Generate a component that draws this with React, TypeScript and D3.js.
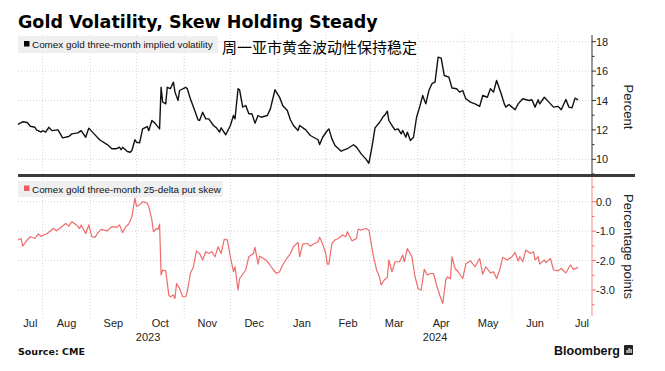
import * as d3 from "d3";

// Comex gold three-month implied volatility (%)
const volDates = [
  "2023-07-16", "2023-07-19", "2023-07-22", "2023-07-24", "2023-07-27", "2023-07-28", "2023-07-31",
  "2023-08-01", "2023-08-03", "2023-08-05", "2023-08-07", "2023-08-11", "2023-08-14", "2023-08-18",
  "2023-08-20", "2023-08-24", "2023-08-26", "2023-08-29", "2023-08-31", "2023-09-03", "2023-09-07",
  "2023-09-12", "2023-09-15", "2023-09-18", "2023-09-20", "2023-09-21", "2023-09-22", "2023-09-25",
  "2023-09-27", "2023-09-28", "2023-09-30", "2023-10-01", "2023-10-03", "2023-10-05", "2023-10-08",
  "2023-10-09", "2023-10-11", "2023-10-13", "2023-10-16", "2023-10-17", "2023-10-18", "2023-10-20",
  "2023-10-21", "2023-10-23", "2023-10-25", "2023-10-26", "2023-10-28", "2023-10-29", "2023-11-02",
  "2023-11-03", "2023-11-05", "2023-11-07", "2023-11-10", "2023-11-11", "2023-11-13", "2023-11-15",
  "2023-11-17", "2023-11-20", "2023-11-22", "2023-11-24", "2023-11-25", "2023-11-28", "2023-12-01",
  "2023-12-03", "2023-12-04", "2023-12-06", "2023-12-07", "2023-12-09", "2023-12-11", "2023-12-13",
  "2023-12-15", "2023-12-17", "2023-12-19", "2023-12-21", "2023-12-25", "2023-12-27", "2023-12-30",
  "2024-01-02", "2024-01-04", "2024-01-07", "2024-01-09", "2024-01-11", "2024-01-14", "2024-01-15",
  "2024-01-19", "2024-01-22", "2024-01-24", "2024-01-27", "2024-01-28", "2024-01-30", "2024-02-02",
  "2024-02-03", "2024-02-05", "2024-02-07", "2024-02-11", "2024-02-15", "2024-02-19", "2024-02-21",
  "2024-02-24", "2024-02-27", "2024-02-29", "2024-03-02", "2024-03-04", "2024-03-07", "2024-03-09",
  "2024-03-11", "2024-03-12", "2024-03-13", "2024-03-15", "2024-03-17", "2024-03-19", "2024-03-21",
  "2024-03-22", "2024-03-24", "2024-03-25", "2024-03-27", "2024-03-29", "2024-03-31", "2024-04-02",
  "2024-04-04", "2024-04-06", "2024-04-08", "2024-04-10", "2024-04-12", "2024-04-14", "2024-04-16",
  "2024-04-18", "2024-04-21", "2024-04-23", "2024-04-26", "2024-04-28", "2024-04-30", "2024-05-02",
  "2024-05-05", "2024-05-08", "2024-05-11", "2024-05-13", "2024-05-16", "2024-05-18", "2024-05-20",
  "2024-05-22", "2024-05-25", "2024-05-27", "2024-05-28", "2024-05-30", "2024-06-01", "2024-06-03",
  "2024-06-05", "2024-06-08", "2024-06-12", "2024-06-14", "2024-06-16", "2024-06-18", "2024-06-19",
  "2024-06-22", "2024-06-25", "2024-06-28", "2024-07-01", "2024-07-03", "2024-07-06", "2024-07-08",
  "2024-07-10", "2024-07-12", "2024-07-14",
];
const volValues = [
  12.37, 12.55, 12.5, 12.25, 12.18, 12.0, 11.85,
  11.95, 11.85, 12.18, 11.95, 12.0, 11.46, 11.55,
  11.73, 11.8, 11.95, 11.5, 12.12, 11.78, 11.33,
  11.0, 10.72, 10.72, 10.82, 10.65, 10.82, 10.53,
  10.48, 10.6, 11.33, 11.16, 11.12, 12.07, 12.23,
  11.95, 12.64, 12.46, 12.07, 14.9, 13.9, 13.77,
  14.9, 14.8, 15.25, 14.57, 14.0, 14.68, 14.9,
  14.8, 14.12, 13.55, 12.69, 12.64, 13.2, 12.75,
  12.75, 12.3, 12.14, 11.85, 12.14, 11.67, 12.3,
  12.98, 12.75, 14.8, 14.73, 13.55, 13.66, 13.1,
  13.1, 12.46, 12.98, 12.86, 12.98, 13.43, 14.73,
  14.22, 13.66, 13.32, 12.69, 12.3, 11.96, 12.3,
  12.0, 11.62, 11.5, 11.33, 11.0, 11.5, 11.96,
  12.07, 11.39, 10.94, 10.55, 10.72, 10.99, 10.83,
  10.37, 10.03, 9.73, 10.83, 12.14, 12.52, 12.86,
  13.1, 13.27, 12.64, 12.3, 12.0, 12.07, 11.73,
  11.96, 11.5, 11.85, 11.28, 11.5, 12.86, 13.55,
  14.34, 13.77, 14.68, 15.14, 15.25, 16.95, 16.88,
  15.7, 15.59, 14.85, 14.8, 14.57, 14.68, 14.12,
  13.89, 13.77, 13.6, 14.34, 14.22, 14.8, 14.57,
  15.36, 14.46, 13.77, 13.55, 13.73, 13.55, 13.37,
  13.77, 14.12, 14.0, 14.05, 13.55, 14.05, 13.77,
  14.22, 13.89, 13.55, 13.6, 13.37, 14.07, 13.55,
  13.5, 14.16, 14.05,
];

// Comex gold three-month 25-delta put skew (percentage points)
const skewDates = [
  "2023-07-16", "2023-07-18", "2023-07-19", "2023-07-22", "2023-07-24", "2023-07-27", "2023-07-29",
  "2023-07-31", "2023-08-04", "2023-08-08", "2023-08-10", "2023-08-12", "2023-08-16", "2023-08-18",
  "2023-08-20", "2023-08-23", "2023-08-25", "2023-08-26", "2023-08-29", "2023-08-31", "2023-09-02",
  "2023-09-04", "2023-09-06", "2023-09-08", "2023-09-12", "2023-09-15", "2023-09-18", "2023-09-20",
  "2023-09-22", "2023-09-24", "2023-09-26", "2023-09-28", "2023-09-30", "2023-10-01", "2023-10-03",
  "2023-10-05", "2023-10-08", "2023-10-09", "2023-10-11", "2023-10-12", "2023-10-14", "2023-10-15",
  "2023-10-16", "2023-10-17", "2023-10-18", "2023-10-20", "2023-10-22", "2023-10-23", "2023-10-25",
  "2023-10-26", "2023-10-27", "2023-10-29", "2023-10-31", "2023-11-02", "2023-11-03", "2023-11-05",
  "2023-11-07", "2023-11-09", "2023-11-11", "2023-11-13", "2023-11-15", "2023-11-17", "2023-11-19",
  "2023-11-21", "2023-11-23", "2023-11-25", "2023-11-27", "2023-11-29", "2023-12-01", "2023-12-03",
  "2023-12-04", "2023-12-06", "2023-12-07", "2023-12-11", "2023-12-13", "2023-12-16", "2023-12-17",
  "2023-12-19", "2023-12-20", "2023-12-24", "2023-12-26", "2023-12-29", "2023-12-31", "2024-01-02",
  "2024-01-04", "2024-01-06", "2024-01-09", "2024-01-11", "2024-01-14", "2024-01-15", "2024-01-17",
  "2024-01-20", "2024-01-22", "2024-01-24", "2024-01-27", "2024-01-28", "2024-01-30", "2024-02-01",
  "2024-02-02", "2024-02-03", "2024-02-05", "2024-02-07", "2024-02-09", "2024-02-12", "2024-02-14",
  "2024-02-15", "2024-02-18", "2024-02-21", "2024-02-22", "2024-02-24", "2024-02-27", "2024-02-29",
  "2024-03-03", "2024-03-05", "2024-03-06", "2024-03-07", "2024-03-08", "2024-03-10", "2024-03-12",
  "2024-03-13", "2024-03-15", "2024-03-17", "2024-03-20", "2024-03-22", "2024-03-23", "2024-03-25",
  "2024-03-28", "2024-03-30", "2024-04-01", "2024-04-03", "2024-04-05", "2024-04-07", "2024-04-09",
  "2024-04-11", "2024-04-13", "2024-04-15", "2024-04-17", "2024-04-19", "2024-04-20", "2024-04-22",
  "2024-04-23", "2024-04-25", "2024-04-27", "2024-04-30", "2024-05-02", "2024-05-05", "2024-05-08",
  "2024-05-11", "2024-05-13", "2024-05-15", "2024-05-18", "2024-05-20", "2024-05-22", "2024-05-24",
  "2024-05-26", "2024-05-29", "2024-06-01", "2024-06-03", "2024-06-05", "2024-06-06", "2024-06-08",
  "2024-06-10", "2024-06-13", "2024-06-15", "2024-06-16", "2024-06-18", "2024-06-19", "2024-06-22",
  "2024-06-23", "2024-06-26", "2024-06-28", "2024-07-01", "2024-07-03", "2024-07-06", "2024-07-09",
  "2024-07-11", "2024-07-14",
];
const skewValues = [
  -1.3, -1.25, -1.51, -1.3, -1.19, -1.25, -1.1,
  -1.17, -1.08, -0.91, -0.99, -0.91, -0.74, -0.83,
  -0.68, -0.79, -0.91, -0.79, -1.08, -0.79, -1.19,
  -1.21, -1.05, -0.94, -0.99, -0.85, -0.87, -0.79,
  -1.05, -0.85, -0.76, -0.51, 0.12, -0.15, -0.11,
  0.0, -0.05, -0.17, -0.62, -1.02, -0.91, -0.94,
  -0.76, -2.49, -2.32, -2.35, -3.17, -3.23, -3.17,
  -3.29, -2.78, -2.95, -3.23, -3.23, -3.06, -2.44,
  -2.21, -1.67, -1.76, -1.98, -1.7, -1.76, -1.7,
  -1.87, -1.53, -1.76, -1.28, -1.3, -1.87, -2.38,
  -2.21, -3.0, -2.61, -2.32, -1.87, -1.76, -1.55,
  -2.12, -1.85, -1.98, -2.1, -2.32, -2.44, -2.38,
  -2.15, -1.98, -1.76, -1.53, -1.38, -1.87, -1.44,
  -1.42, -1.51, -1.44, -1.36, -1.21, -1.44, -1.76,
  -2.12, -2.12, -1.42, -1.3, -1.25, -1.13, -1.19,
  -1.02, -1.33, -1.25, -0.93, -0.96, -0.91, -0.96,
  -1.87, -2.32, -2.44, -2.57, -2.83, -2.66, -2.57,
  -1.98, -2.38, -2.04, -2.04, -1.81, -2.04, -1.59,
  -1.87, -2.55, -2.95, -3.0, -2.3, -2.49, -2.44,
  -2.44, -2.83, -3.17, -3.46, -2.66, -2.55, -2.62,
  -1.87, -2.27, -2.38, -2.61, -2.12, -2.01, -2.21,
  -1.93, -2.46, -2.21, -2.42, -2.38, -2.61, -2.32,
  -1.89, -1.98, -1.87, -1.72, -2.01, -1.87, -2.04,
  -1.64, -1.76, -1.7, -1.98, -1.87, -2.12, -1.98,
  -2.07, -1.93, -2.32, -2.35, -2.27, -2.42, -2.15,
  -2.3, -2.23,
];

const volTicks = [10, 12, 14, 16, 18];
const volMinorTicks = [9, 11, 13, 15, 17];
const skewTicks = [0, -1, -2, -3];
const skewMinorTicks = [0.5, -0.5, -1.5, -2.5, -3.5];

const W = 665;
const H = 371;
const plotLeft = 18;
const plotRight = 592;
const top1 = 35;
const bottom1 = 175;
const top2 = 177;
const bottom2 = 316;

const parse = d3.timeParse("%Y-%m-%d");
const startDate = new Date(2023, 6, 16);
const endDate = new Date(2024, 6, 23);

const x = d3.scaleTime().domain([startDate, endDate]).range([plotLeft, plotRight]);
const yVol = d3.scaleLinear().domain([10, 18]).range([159.3, 41.7]);
const ySkew = d3.scaleLinear().domain([-3, 0]).range([290, 201.7]);

const volData = volDates.map((d, i) => ({ date: parse(d) as Date, value: volValues[i] }));
const skewData = skewDates.map((d, i) => ({ date: parse(d) as Date, value: skewValues[i] }));

const volLine = d3
  .line<{ date: Date; value: number }>()
  .x((d) => x(d.date))
  .y((d) => yVol(d.value));
const skewLine = d3
  .line<{ date: Date; value: number }>()
  .x((d) => x(d.date))
  .y((d) => ySkew(d.value));

const months = d3.timeMonth.range(d3.timeMonth.floor(startDate), endDate);
const monthStarts = d3.timeMonth.range(d3.timeMonth.ceil(startDate), endDate);
const years = [2023, 2024];

const font = "'Liberation Sans', Arial, sans-serif";
const gridColor = "#d4d4d4";
const skewColor = "#f06b6b";

export default function App() {
  return (
    <svg
      width={W}
      height={H}
      style={{ position: "absolute", left: 0, top: 0, background: "#fff" }}
      fontFamily={font}
    >
      {/* title */}
      <text x={18} y={28} fontSize={17.5} fontWeight="bold" fontFamily="'DejaVu Sans', sans-serif" fill="#000">
        Gold Volatility, Skew Holding Steady
      </text>

      {/* vertical month grid */}
      {monthStarts.map((m) => (
        <line
          key={m.toISOString()}
          x1={x(m)}
          x2={x(m)}
          y1={top1}
          y2={318}
          stroke={gridColor}
          strokeDasharray="1,2"
        />
      ))}
      {/* horizontal grids */}
      {volTicks.map((t) => (
        <line key={t} x1={plotLeft} x2={plotRight} y1={yVol(t)} y2={yVol(t)} stroke={gridColor} strokeDasharray="1,2" />
      ))}
      {skewTicks.map((t) => (
        <line key={t} x1={plotLeft} x2={plotRight} y1={ySkew(t)} y2={ySkew(t)} stroke={gridColor} strokeDasharray="1,2" />
      ))}

      {/* legends */}
      <rect x={18} y={36} width={200} height={17} fill="#efefef" />
      <rect x={24} y={41} width={5.5} height={5.5} fill="#000" />
      <text x={32} y={48} fontSize={9.9} fill="#111">
        Comex gold three-month implied volatility
      </text>
      <text x={222} y={52.5} fontSize={15} fill="#000" fontFamily="'Noto Sans CJK SC', sans-serif">
        周一亚市黄金波动性保持稳定
      </text>

      <rect x={18} y={181} width={205} height={16} fill="#efefef" />
      <rect x={24} y={185.5} width={5.5} height={5.5} fill="#f25c5c" />
      <text x={32} y={192.5} fontSize={9.9} fill="#111">
        Comex gold three-month 25-delta put skew
      </text>

      {/* series */}
      <path d={volLine(volData) ?? ""} fill="none" stroke="#111" strokeWidth={1.4} strokeLinejoin="round" />
      <path d={skewLine(skewData) ?? ""} fill="none" stroke={skewColor} strokeWidth={1.2} strokeLinejoin="round" />

      {/* separator */}
      <line x1={plotLeft} x2={635} y1={bottom1 + 0.5} y2={bottom1 + 0.5} stroke="#3b3b3b" strokeWidth={3} />

      {/* right axis top */}
      <line x1={plotRight} x2={plotRight} y1={top1} y2={bottom1} stroke="#333" />
      {volTicks.map((t) => (
        <g key={t}>
          <line x1={plotRight} x2={plotRight + 4} y1={yVol(t)} y2={yVol(t)} stroke="#333" />
          <text x={plotRight + 4} y={yVol(t) + 4} fontSize={11} fill="#222">
            {t}
          </text>
        </g>
      ))}
      {volMinorTicks.map((t) => (
        <line key={t} x1={plotRight} x2={plotRight + 2.5} y1={yVol(t)} y2={yVol(t)} stroke="#333" />
      ))}
      <text
        transform={`translate(624, ${(top1 + bottom1) / 2 + 2}) rotate(90)`}
        textAnchor="middle"
        fontSize={13}
        fill="#222"
      >
        Percent
      </text>

      {/* right axis bottom */}
      <line x1={plotRight} x2={plotRight} y1={top2} y2={bottom2} stroke={skewColor} strokeOpacity={0.8} />
      {skewTicks.map((t) => (
        <g key={t}>
          <line x1={plotRight} x2={plotRight + 4} y1={ySkew(t)} y2={ySkew(t)} stroke={skewColor} />
          <text x={plotRight + 4} y={ySkew(t) + 4} fontSize={11} fill="#222">
            {d3.format(".1f")(t).replace("−", "-")}
          </text>
        </g>
      ))}
      {skewMinorTicks.map((t) => (
        <line key={t} x1={plotRight} x2={plotRight + 2.5} y1={ySkew(t)} y2={ySkew(t)} stroke={skewColor} />
      ))}
      <text
        transform={`translate(624, ${(top2 + bottom2) / 2}) rotate(90)`}
        textAnchor="middle"
        fontSize={13}
        fill="#222"
      >
        Percentage points
      </text>

      {/* x axis labels */}
      {months.map((m) => {
        const a = m < startDate ? startDate : m;
        const b = d3.timeMonth.offset(m, 1);
        return (
          <text key={m.toISOString()} x={(x(a) + x(b)) / 2} y={327} textAnchor="middle" fontSize={11} fill="#222">
            {d3.timeFormat("%b")(m)}
          </text>
        );
      })}
      {years.map((yr) => {
        const a = d3.max([new Date(yr, 0, 1), startDate]) as Date;
        const b = d3.min([new Date(yr + 1, 0, 1), endDate]) as Date;
        return (
          <text key={yr} x={(x(a) + x(b)) / 2} y={341} textAnchor="middle" fontSize={11} fill="#222">
            {yr}
          </text>
        );
      })}

      {/* footer */}
      <text x={18} y={355} fontSize={9.5} fontWeight="bold" fontFamily="'DejaVu Sans', sans-serif" fill="#111">
        Source: CME
      </text>
      <text x={620} y={355} textAnchor="end" fontSize={12.5} fontWeight="bold" fill="#111">
        Bloomberg
      </text>
      <rect x={624} y={345} width={9} height={10} rx={1} fill="#222" />
      <rect x={626.5} y={350} width={1.2} height={3} fill="#fff" />
      <rect x={628.5} y={348} width={1.2} height={5} fill="#fff" />
      <rect x={630.5} y={349} width={1.2} height={4} fill="#fff" />
    </svg>
  );
}
